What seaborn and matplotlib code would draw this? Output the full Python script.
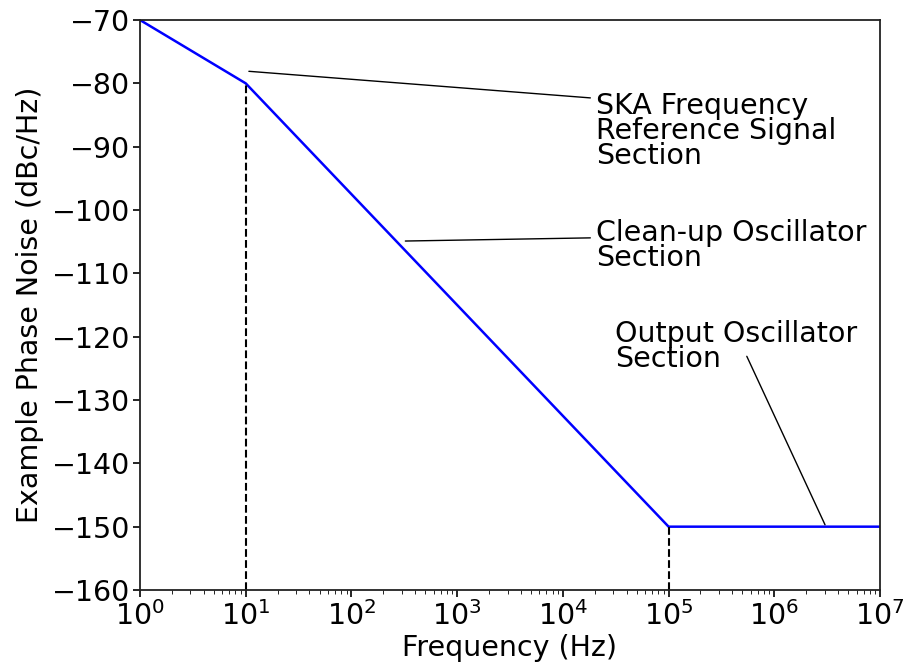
import matplotlib
matplotlib.use("Agg")
import matplotlib.pyplot as plt
import seaborn as sns
import pandas as pd

freq = [1, 10, 1e5, 1e7]
noise = [-70, -80, -150, -150]
xticks = [1, 10, 100, 1e3, 1e4, 1e5, 1e6, 1e7]
yticks = [-160, -150, -140, -130, -120, -110, -100, -90, -80, -70]
labels = ["SKA Frequency\nReference Signal\nSection", "Clean-up Oscillator\nSection", "Output Oscillator\nSection"]

sns.set_style("ticks")
plt.rcParams['font.family'] = ['DejaVu Sans']
fs = 20.5

fig = plt.figure(figsize=(9.08, 6.67), dpi=100)
ax = fig.add_axes([140/908, 1 - 590/667, 740/908, 570/667])

df = pd.DataFrame({"Frequency (Hz)": freq, "Phase": noise})
sns.lineplot(data=df, x="Frequency (Hz)", y="Phase", color="blue", lw=1.8, ax=ax, sort=False)
ax.set_xscale("log")
ax.set_xlim(1, 1e7)
ax.set_ylim(-160, -70)
ax.set_yticks(yticks)
ax.set_xticks(xticks)
ax.plot([10, 10], [-160, -80], "k--", lw=1.5)
ax.plot([1e5, 1e5], [-160, -150], "k--", lw=1.5)

ax.set_xlabel("Frequency (Hz)", fontsize=fs, color="black", labelpad=2)
ax.set_ylabel("Example Phase Noise (dBc/Hz)", fontsize=fs, color="black", labelpad=6)
ax.tick_params(labelsize=fs, width=1.2, length=5, direction="out", colors="black", pad=2)
ax.tick_params(axis="x", pad=3)
ax.tick_params(which="minor", length=3, colors="black")
for s in ax.spines.values():
    s.set_linewidth(1.3)
    s.set_color("#222222")

ap = dict(arrowstyle="-", color="black", lw=1.0, shrinkA=0, shrinkB=0)
# connector lines
ax.annotate("", xy=(10**1.03, -78.1), xytext=(10**4.26, -82.3), arrowprops=ap)
ax.annotate("", xy=(10**2.51, -104.9), xytext=(10**4.26, -104.4), arrowprops=ap)
ax.annotate("", xy=(10**6.48, -149.7), xytext=(10**5.74, -123.1), arrowprops=ap)
# label texts (baseline of last line)
ax.text(10**4.31, -92.75, labels[0], fontsize=fs, va="baseline", ha="left", linespacing=0.87, color="black")
ax.text(10**4.31, -108.8, labels[1], fontsize=fs, va="baseline", ha="left", linespacing=0.87, color="black")
ax.text(10**4.49, -124.8, labels[2], fontsize=fs, va="baseline", ha="left", linespacing=0.87, color="black")
fig.savefig("out.png", dpi=100)
